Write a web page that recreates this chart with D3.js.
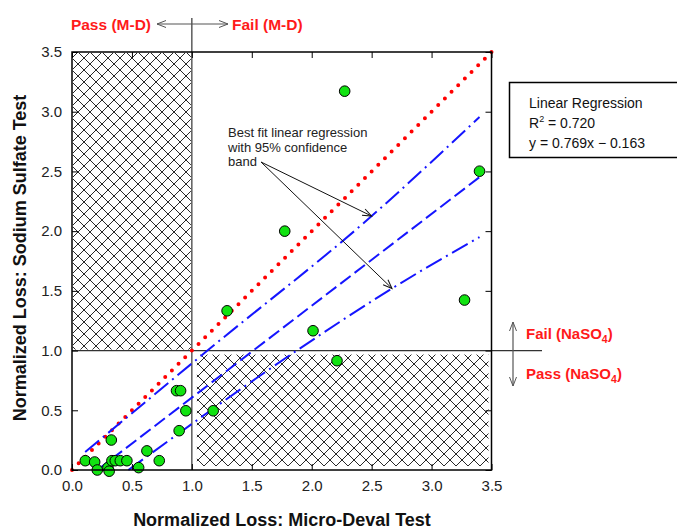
<!DOCTYPE html>
<html>
<head>
<meta charset="utf-8">
<script src="https://cdn.jsdelivr.net/npm/d3@7"></script>
<style>
  body { margin: 0; background: #fff; }
  text { font-family: "Liberation Sans", Arial, Helvetica, sans-serif; }
</style>
</head>
<body>
<script>
// measured points: normalized loss, micro-deval (x) vs sodium sulfate (y)
var mdLoss = [2.275, 1.775, 3.40, 1.294, 2.011, 3.275, 2.211, 1.178, 0.95, 0.872, 0.906, 0.894,
              0.328, 0.625, 0.728, 0.111, 0.189, 0.211, 0.30, 0.31, 0.333, 0.361, 0.403, 0.458, 0.556]
var nsLoss = [3.172, 2.0, 2.502, 1.333, 1.166, 1.423, 0.915, 0.496, 0.496, 0.664, 0.664, 0.329,
              0.251, 0.16, 0.078, 0.078, 0.067, 0.0, 0.02, -0.01, 0.078, 0.078, 0.078, 0.078, 0.02]

// best fit (y = 0.769x - 0.163) and 95% band
var fitX = [0.212, 3.4]
var fitY = [0.0, 2.452]
var bandUpX = [0.11, 1.13, 2.5, 3.4]
var bandUpY = [0.15, 1.0, 2.126, 2.956]
var bandLoX = [0.47, 1.875, 2.67, 3.4]
var bandLoY = [0.0, 1.0, 1.52, 1.95]
var lineEq = [0, 3.5]  // 1:1 line

var majorTicks = [0, 0.5, 1.0, 1.5, 2.0, 2.5, 3.0, 3.5]
var passFail = 1.0
var fitText = ['Linear Regression', '0.720', 'y = 0.769x \u2212 0.163']

var margin = {left: 72, top: 52, right: 186, bottom: 61}
var W = 677, H = 531

var svg = d3.select('body').append('svg')
    .attr('width', W)
    .attr('height', H)

var x = d3.scaleLinear().domain([0, 3.5]).range([margin.left, W - margin.right + 0.5])
var y = d3.scaleLinear().domain([0, 3.5]).range([H - margin.bottom, margin.top])

var defs = svg.append('defs')

var hatch = defs.append('pattern')
    .attr('id', 'hatch')
    .attr('patternUnits', 'userSpaceOnUse')
    .attr('width', 12).attr('height', 12)
    .attr('x', x(0) + 6).attr('y', y(3.5))
hatch.append('path')
    .attr('d', 'M0,0 L12,12 M12,0 L0,12 M-6,6 L0,0 M6,18 L18,6')
    .attr('stroke', '#111')
    .attr('stroke-width', 0.9)
    .attr('fill', 'none')

var arrowHead = defs.append('marker')
    .attr('id', 'head')
    .attr('viewBox', '-10 -5 12 10')
    .attr('refX', 0).attr('refY', 0)
    .attr('markerWidth', 12).attr('markerHeight', 10)
    .attr('markerUnits', 'userSpaceOnUse')
    .attr('orient', 'auto-start-reverse')
arrowHead.append('path')
    .attr('d', 'M-9,-3.5 L0,0 L-9,3.5')
    .attr('fill', 'none')
    .attr('stroke', 'context-stroke')
    .attr('stroke-width', 1)

// hatched "mixed result" quadrants
svg.append('rect')
    .attr('x', x(0) + 1).attr('y', y(3.5) + 1)
    .attr('width', x(passFail) - x(0) - 2)
    .attr('height', y(passFail) - y(3.5) - 2)
    .attr('fill', 'url(#hatch)')

svg.append('rect')
    .attr('x', x(passFail) + 5).attr('y', y(passFail) + 4)
    .attr('width', x(3.5) - x(passFail) - 8)
    .attr('height', y(0) - y(passFail) - 8)
    .attr('fill', 'url(#hatch)')

// pass/fail dividers
svg.append('line')
    .attr('x1', x(passFail)).attr('x2', x(passFail))
    .attr('y1', 18).attr('y2', y(0))
    .attr('stroke', '#333').attr('stroke-width', 1.2)

svg.append('line')
    .attr('x1', x(0)).attr('x2', 542)
    .attr('y1', y(passFail)).attr('y2', y(passFail))
    .attr('stroke', '#333').attr('stroke-width', 1.2)

var line = d3.line().x(d => x(d[0])).y(d => y(d[1]))
var curve = d3.line().x(d => x(d[0])).y(d => y(d[1])).curve(d3.curveMonotoneX)

// 1:1 line
svg.append('path')
    .attr('d', line(lineEq.map(v => [v, v])))
    .attr('fill', 'none')
    .attr('stroke', '#ff0000')
    .attr('stroke-width', 4)
    .attr('stroke-linecap', 'round')
    .attr('stroke-dasharray', '0 9.4')

svg.append('path')
    .attr('d', line(fitX.map((v, i) => [v, fitY[i]])))
    .attr('fill', 'none')
    .attr('stroke', '#1515ff')
    .attr('stroke-width', 2)
    .attr('stroke-dasharray', '13 5')

svg.append('path')
    .attr('d', curve(bandUpX.map((v, i) => [v, bandUpY[i]])))
    .attr('fill', 'none')
    .attr('stroke', '#1515ff')
    .attr('stroke-width', 2)
    .attr('stroke-dasharray', '18 5 2 5')

svg.append('path')
    .attr('d', curve(bandLoX.map((v, i) => [v, bandLoY[i]])))
    .attr('fill', 'none')
    .attr('stroke', '#1515ff')
    .attr('stroke-width', 2)
    .attr('stroke-dasharray', '18 5 2 5')

// data points
svg.append('g').selectAll('circle')
    .data(mdLoss.map((v, i) => [v, nsLoss[i]]))
    .join('circle')
    .attr('cx', d => x(d[0]))
    .attr('cy', d => y(d[1]))
    .attr('r', 5.3)
    .attr('fill', '#11e311')
    .attr('stroke', '#000')
    .attr('stroke-width', 1)

// frame
svg.append('rect')
    .attr('x', x(0)).attr('y', y(3.5))
    .attr('width', x(3.5) - x(0))
    .attr('height', y(0) - y(3.5))
    .attr('fill', 'none')
    .attr('stroke', '#000')
    .attr('stroke-width', 1.5)

var minorTicks = d3.range(0, 36).map(i => i / 10)
var fmt = d3.format('.1f')

function addAxis(axisFn, scale, pos, labels) {
    var g = svg.append('g').attr('transform', pos)
    g.call(axisFn(scale).tickValues(minorTicks).tickSize(-3.5).tickFormat(''))
    g.call(axisFn(scale).tickValues(majorTicks).tickSize(-6).tickPadding(10)
        .tickFormat(labels ? fmt : ''))
    g.selectAll('.domain').remove()
    g.selectAll('line').attr('stroke', '#000')
    g.selectAll('text').attr('font-size', 15).attr('fill', '#222')
        .style('font-family', '"Liberation Sans", Arial, sans-serif')
    return g
}

addAxis(d3.axisBottom, x, `translate(0,${y(0)})`, true)
addAxis(d3.axisTop, x, `translate(0,${y(3.5)})`, false)
addAxis(d3.axisLeft, y, `translate(${x(0)},0)`, true)
addAxis(d3.axisRight, y, `translate(${x(3.5)},0)`, false)

// axis titles
svg.append('text')
    .attr('x', 282)
    .attr('y', 526)
    .attr('text-anchor', 'middle')
    .attr('font-size', 18)
    .attr('font-weight', 'bold')
    .attr('fill', '#111')
    .text('Normalized Loss: Micro-Deval Test')

svg.append('text')
    .attr('transform', `translate(26, 258) rotate(-90)`)
    .attr('text-anchor', 'middle')
    .attr('font-size', 18)
    .attr('font-weight', 'bold')
    .attr('fill', '#111')
    .text('Normalized Loss: Sodium Sulfate Test')

// M-D pass/fail marker
svg.append('line')
    .attr('x1', 157).attr('x2', 228)
    .attr('y1', 24).attr('y2', 24)
    .attr('stroke', '#555').attr('stroke-width', 1.2)
    .attr('marker-start', 'url(#head)')
    .attr('marker-end', 'url(#head)')

svg.append('text')
    .attr('x', 151).attr('y', 29.5)
    .attr('text-anchor', 'end')
    .attr('font-size', 15.5).attr('font-weight', 'bold')
    .attr('fill', '#ff1a1a')
    .text('Pass (M-D)')

svg.append('text')
    .attr('x', 232).attr('y', 29.5)
    .attr('font-size', 15.5).attr('font-weight', 'bold')
    .attr('fill', '#ff1a1a')
    .text('Fail (M-D)')

// NaSO4 pass/fail marker
svg.append('line')
    .attr('x1', 513).attr('x2', 513)
    .attr('y1', 322).attr('y2', 386)
    .attr('stroke', '#555').attr('stroke-width', 1.2)
    .attr('marker-start', 'url(#head)')
    .attr('marker-end', 'url(#head)')

function nasoLabel(word, yy) {
    var t = svg.append('text')
        .attr('x', 526).attr('y', yy)
        .attr('font-size', 15).attr('font-weight', 'bold')
        .attr('fill', '#ff1a1a')
    t.append('tspan').text(word + ' (NaSO')
    t.append('tspan').attr('font-size', 10.5).attr('dy', 4).text('4')
    t.append('tspan').attr('dy', -4).text(')')
}
nasoLabel('Fail', 338.5)
nasoLabel('Pass', 378.5)

// annotation
var note = svg.append('text')
    .attr('x', 228).attr('y', 137)
    .attr('font-size', 13)
    .attr('fill', '#222')
;['Best fit linear regression', 'with 95% confidence', 'band'].forEach((s, i) => {
    note.append('tspan').attr('x', 228).attr('dy', i ? 14.5 : 0).text(s)
})

svg.append('line')
    .attr('x1', 261).attr('y1', 162)
    .attr('x2', x(2.5)).attr('y2', y(2.126))
    .attr('stroke', '#111').attr('stroke-width', 1)
    .attr('marker-end', 'url(#head)')

svg.append('line')
    .attr('x1', 261).attr('y1', 162)
    .attr('x2', x(2.67)).attr('y2', y(1.52))
    .attr('stroke', '#111').attr('stroke-width', 1)
    .attr('marker-end', 'url(#head)')

// regression box
svg.append('rect')
    .attr('x', 509.5).attr('y', 82.5)
    .attr('width', 170).attr('height', 75)
    .attr('fill', '#fff')
    .attr('stroke', '#000')
    .attr('stroke-width', 1.5)

var box = svg.append('g').attr('font-size', 14).attr('fill', '#111')
box.append('text').attr('x', 529).attr('y', 108).text(fitText[0])
var r2 = box.append('text').attr('x', 529).attr('y', 128)
r2.append('tspan').text('R')
r2.append('tspan').attr('font-size', 9).attr('dy', -6).text('2')
r2.append('tspan').attr('dy', 6).text(' = ' + fitText[1])
box.append('text').attr('x', 529).attr('y', 148).text(fitText[2])
</script>
</body>
</html>
